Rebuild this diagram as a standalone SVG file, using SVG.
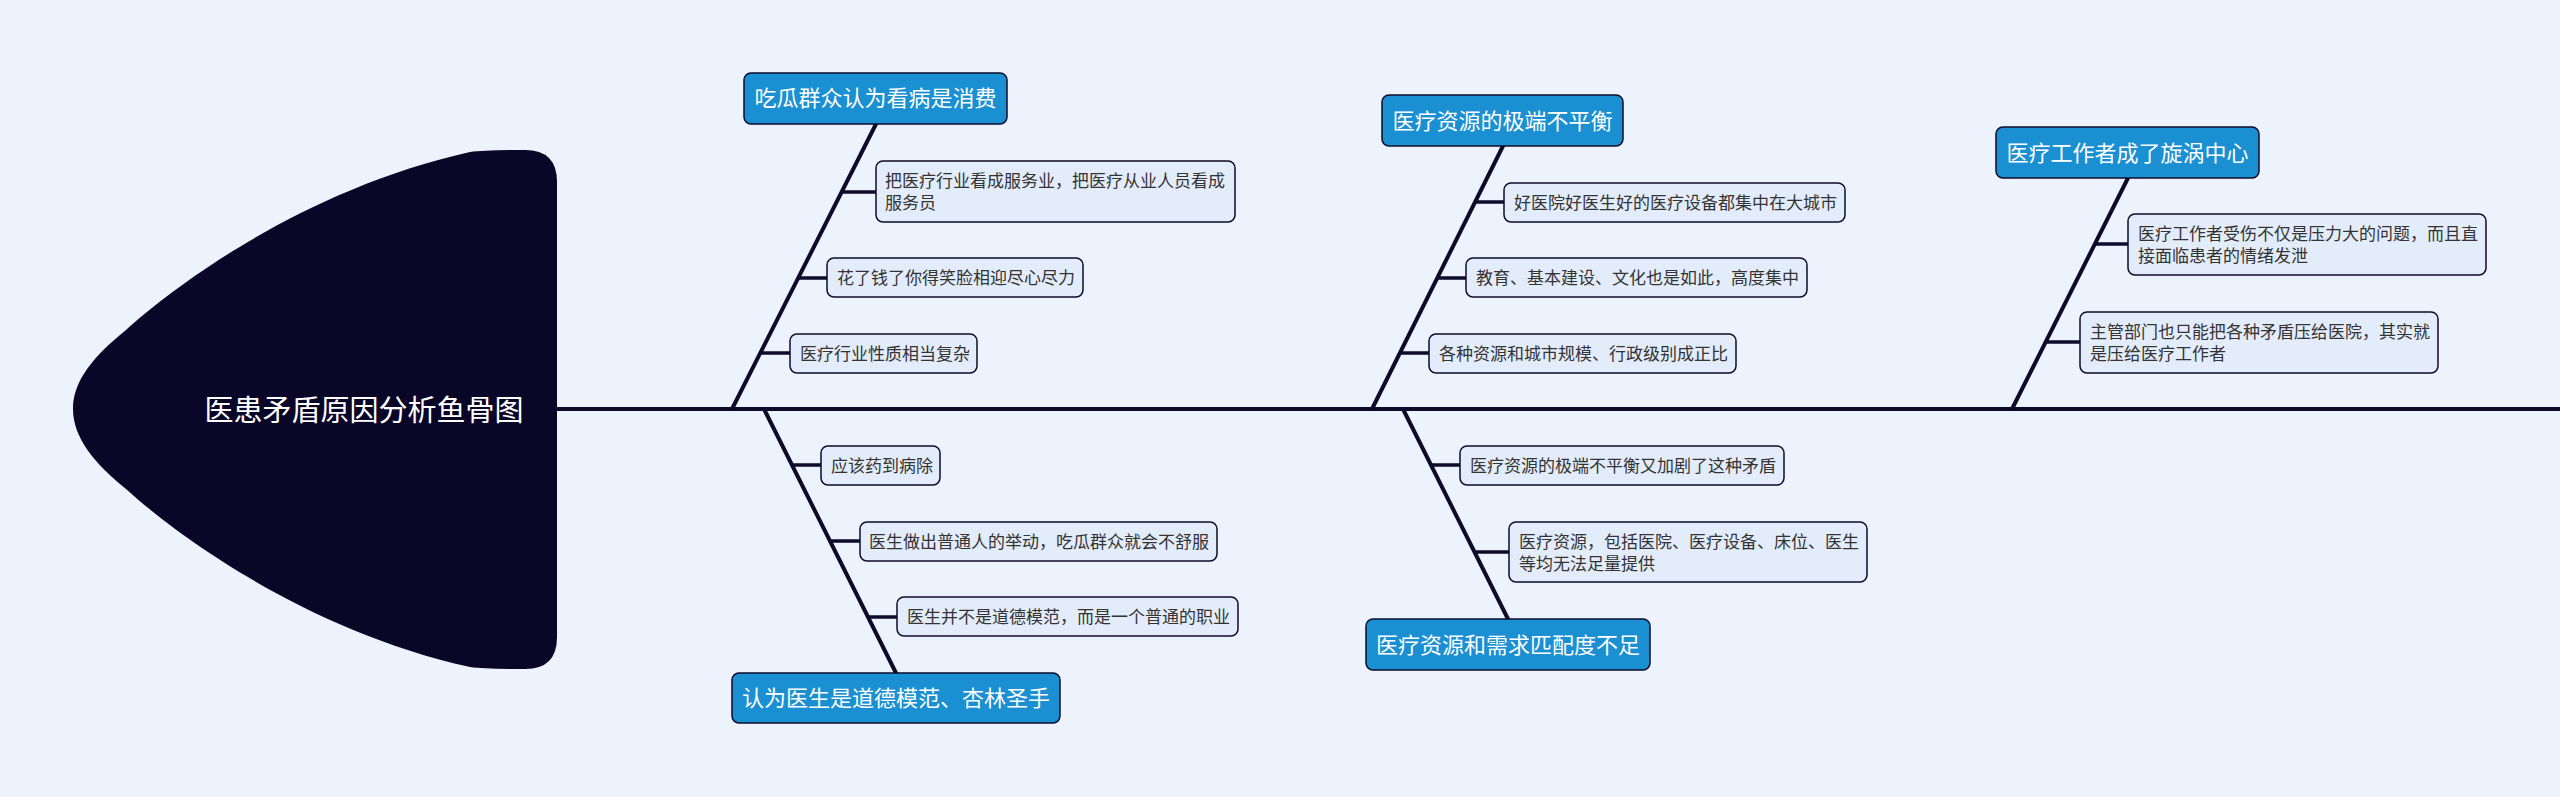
<svg xmlns="http://www.w3.org/2000/svg" width="2560" height="797" viewBox="0 0 2560 797">
<style>
.bg{fill:#edf3fd}
.bone{stroke:#0d0b2a;stroke-width:4;fill:none;stroke-linecap:round}
.conn{stroke:#0d0b2a;stroke-width:3.5;fill:none}
.hdr{fill:#1a90d2;stroke:#0d0b2a;stroke-width:1.5}
.sub{fill:#e3ecfb;stroke:#0d0b2a;stroke-width:1.5}
.ht{font-family:"Noto Sans CJK SC","Noto Sans",sans-serif;font-size:22px;fill:#ffffff;text-anchor:middle}
.st{font-family:"Noto Sans CJK SC","Noto Sans",sans-serif;font-size:17px;fill:#333333}
.tt{font-family:"Noto Sans CJK SC","Noto Sans",sans-serif;font-size:29px;fill:#ffffff;text-anchor:middle}
</style>
<rect class="bg" x="0" y="0" width="2560" height="797"/>
<g id="connectors">
<line class="bone" x1="557" y1="409" x2="2560" y2="409"/>
<line class="bone" x1="876" y1="124" x2="732" y2="409"/>
<line class="conn" x1="842" y1="192" x2="876" y2="192"/>
<line class="conn" x1="798" y1="278" x2="827" y2="278"/>
<line class="conn" x1="760" y1="353" x2="790" y2="353"/>
<line class="bone" x1="764" y1="409" x2="896" y2="673"/>
<line class="conn" x1="792" y1="465" x2="821" y2="465"/>
<line class="conn" x1="830" y1="541" x2="860" y2="541"/>
<line class="conn" x1="868" y1="617" x2="897" y2="617"/>
<line class="bone" x1="1503" y1="146" x2="1372" y2="409"/>
<line class="conn" x1="1475" y1="202" x2="1504" y2="202"/>
<line class="conn" x1="1437" y1="278" x2="1466" y2="278"/>
<line class="conn" x1="1400" y1="353" x2="1429" y2="353"/>
<line class="bone" x1="1403" y1="409" x2="1508" y2="619"/>
<line class="conn" x1="1431" y1="465" x2="1460" y2="465"/>
<line class="conn" x1="1474" y1="552" x2="1509" y2="552"/>
<line class="bone" x1="2128" y1="178" x2="2012" y2="409"/>
<line class="conn" x1="2095" y1="244" x2="2128" y2="244"/>
<line class="conn" x1="2046" y1="342" x2="2080" y2="342"/>
</g>
<g id="head">
<path d="M 73 409 C 73 380 95 355 126 330 C 170 290 300 190 470 152 Q 485 150 525 150 Q 557 150 557 182 L 557 637 Q 557 669 525 669 Q 485 669 470 667 C 300 629 170 529 126 489 C 95 464 73 438 73 409 Z" fill="#0a0628"/>
<text class="tt" x="364" y="421">医患矛盾原因分析鱼骨图</text>
</g>
<g id="b1">
<rect class="hdr" x="744" y="73" width="263" height="51" rx="7"/>
<text class="ht" x="875.5" y="106">吃瓜群众认为看病是消费</text>
</g>
<g id="b1s1">
<rect class="sub" x="876" y="161" width="359" height="61" rx="7"/>
<text class="st" x="885" y="187">把医疗行业看成服务业，把医疗从业人员看成</text>
<text class="st" x="885" y="209">服务员</text>
</g>
<g id="b1s2">
<rect class="sub" x="827" y="258" width="256" height="39" rx="7"/>
<text class="st" x="837" y="284">花了钱了你得笑脸相迎尽心尽力</text>
</g>
<g id="b1s3">
<rect class="sub" x="790" y="334" width="187" height="39" rx="7"/>
<text class="st" x="800" y="360">医疗行业性质相当复杂</text>
</g>
<g id="b2">
<rect class="hdr" x="732" y="673" width="328" height="50" rx="7"/>
<text class="ht" x="896" y="706">认为医生是道德模范、杏林圣手</text>
</g>
<g id="b2s1">
<rect class="sub" x="821" y="446" width="119" height="39" rx="7"/>
<text class="st" x="831" y="472">应该药到病除</text>
</g>
<g id="b2s2">
<rect class="sub" x="860" y="522" width="357" height="39" rx="7"/>
<text class="st" x="869" y="548">医生做出普通人的举动，吃瓜群众就会不舒服</text>
</g>
<g id="b2s3">
<rect class="sub" x="897" y="597" width="341" height="39" rx="7"/>
<text class="st" x="907" y="623">医生并不是道德模范，而是一个普通的职业</text>
</g>
<g id="b3">
<rect class="hdr" x="1382" y="95" width="241" height="51" rx="7"/>
<text class="ht" x="1502.5" y="128.5">医疗资源的极端不平衡</text>
</g>
<g id="b3s1">
<rect class="sub" x="1504" y="183" width="341" height="39" rx="7"/>
<text class="st" x="1514" y="209">好医院好医生好的医疗设备都集中在大城市</text>
</g>
<g id="b3s2">
<rect class="sub" x="1466" y="258" width="341" height="39" rx="7"/>
<text class="st" x="1476" y="284">教育、基本建设、文化也是如此，高度集中</text>
</g>
<g id="b3s3">
<rect class="sub" x="1429" y="334" width="307" height="39" rx="7"/>
<text class="st" x="1439" y="360">各种资源和城市规模、行政级别成正比</text>
</g>
<g id="b4">
<rect class="hdr" x="1366" y="619" width="284" height="51" rx="7"/>
<text class="ht" x="1508" y="652.5">医疗资源和需求匹配度不足</text>
</g>
<g id="b4s1">
<rect class="sub" x="1460" y="446" width="324" height="39" rx="7"/>
<text class="st" x="1470" y="472">医疗资源的极端不平衡又加剧了这种矛盾</text>
</g>
<g id="b4s2">
<rect class="sub" x="1509" y="522" width="358" height="60" rx="7"/>
<text class="st" x="1519" y="547.5">医疗资源，包括医院、医疗设备、床位、医生</text>
<text class="st" x="1519" y="569.5">等均无法足量提供</text>
</g>
<g id="b5">
<rect class="hdr" x="1996" y="127" width="263" height="51" rx="7"/>
<text class="ht" x="2127.5" y="160.5">医疗工作者成了旋涡中心</text>
</g>
<g id="b5s1">
<rect class="sub" x="2128" y="214" width="358" height="61" rx="7"/>
<text class="st" x="2138" y="240">医疗工作者受伤不仅是压力大的问题，而且直</text>
<text class="st" x="2138" y="262">接面临患者的情绪发泄</text>
</g>
<g id="b5s2">
<rect class="sub" x="2080" y="312" width="358" height="61" rx="7"/>
<text class="st" x="2090" y="338">主管部门也只能把各种矛盾压给医院，其实就</text>
<text class="st" x="2090" y="360">是压给医疗工作者</text>
</g>
</svg>
